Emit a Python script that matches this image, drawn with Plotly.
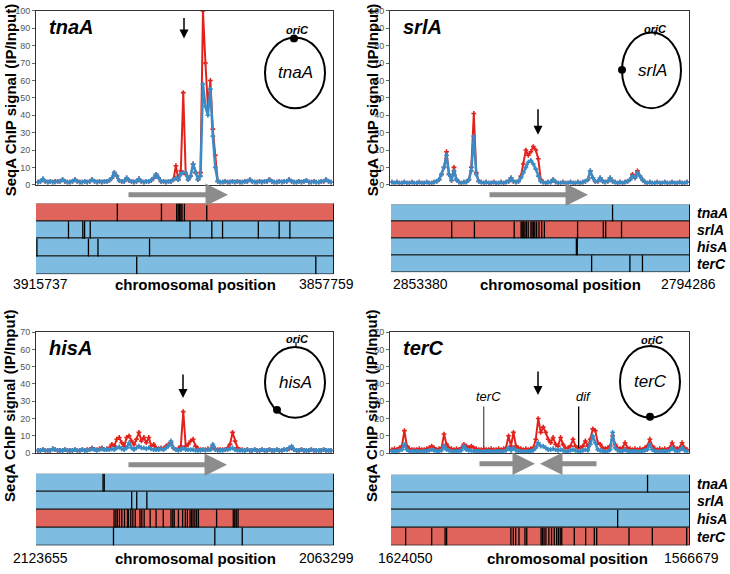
import plotly.graph_objects as go

W, H = 730, 574
def px(x): return x / W
def py(y): return 1 - y / H

FONT = "Arial, Liberation Sans, sans-serif"
RED_LINE = "#E2231D"
BLUE_LINE = "#3A8CC6"
RED_TRACK = "#E0645B"
BLUE_TRACK = "#7EBDE1"

genes = ["tnaA", "srlA", "hisA", "terC"]
start_labels = ["3915737", "2853380", "2123655", "1624050"]
end_labels = ["3857759", "2794286", "2063299", "1566679"]
y_max = [100, 100, 70, 70]
y_tick_step = [10, 10, 10, 10]

# ---- ChIP signal (IP/Input), 120 bins across each region ----
tnaA_red = [1.5, 2, 3, 2, 1.5, 2, 1.5, 2, 2, 2,
            3, 2, 1.5, 1.5, 2, 3, 2, 1.5, 1.5, 2,
            1.5, 2, 3, 2, 1.5, 2, 1.5, 2, 2, 2.5,
            4, 7, 5, 2.5, 2, 2, 4, 2.5, 2, 1.5,
            2, 3.5, 2, 1.5, 2, 2, 2.5, 4, 6, 4,
            2, 2, 1.5, 2, 2, 3, 11, 3, 8, 53,
            6, 3, 5, 12, 7, 3, 7, 100, 70, 45,
            60, 32, 17, 2, 1.5, 1.5, 2, 1.5, 1.5, 2,
            1.5, 2, 1.5, 1.5, 2, 2, 3, 2, 1.5, 1.5,
            2, 1.5, 2, 2, 3, 2, 1.5, 1.5, 2, 1.5,
            2, 2, 3, 2, 1.5, 1.5, 2, 1.5, 2, 2.5,
            1.5, 1.5, 2, 1.5, 1.5, 2, 2, 3, 2, 1.5]
tnaA_blue = [1.5, 2, 3.5, 2, 1.5, 2, 1.5, 1.5, 2, 2,
             3, 2, 1.5, 1.5, 2, 3, 2, 1.5, 1.5, 2,
             1.5, 2, 3, 2, 1.5, 2, 1.5, 2, 2, 2.5,
             4, 7, 5, 2.5, 2, 2, 4, 2.5, 2, 1.5,
             2, 3.5, 2, 1.5, 2, 2, 2.5, 4, 6, 4,
             2, 2, 1.5, 2, 2, 3, 4, 3, 6, 7,
             7, 3, 5, 12, 7, 3, 5, 58, 45, 40,
             55, 28, 10, 2, 1.5, 1.5, 2, 1.5, 1.5, 2,
             1.5, 2, 1.5, 1.5, 2, 2, 3, 2, 1.5, 1.5,
             2, 1.5, 2, 2, 3, 2, 1.5, 1.5, 2, 1.5,
             2, 2, 3, 2, 1.5, 1.5, 2, 1.5, 2, 2.5,
             1.5, 1.5, 2, 1.5, 1.5, 2, 2, 3, 2, 1.5]

srlA_red = [1.5, 1, 1.5, 1, 1, 1.5, 1, 1, 1.5, 1,
            1, 1.5, 1, 1, 1.5, 1, 1, 1.5, 2, 3,
            6, 10, 19, 6, 2.5, 10, 3, 1.5, 1, 1.5,
            1.5, 3, 10, 41, 7, 2, 1.5, 1, 1.5, 1,
            1, 1.5, 1, 1, 1.5, 1, 1.5, 2, 4, 2,
            1.5, 2, 5, 12, 20, 17, 19, 22, 20, 15,
            3, 1.5, 1, 1.5, 1.5, 3, 1.5, 1, 1, 1.5,
            1, 1, 1.5, 1, 1, 1.5, 1, 1.5, 2, 3,
            8, 4, 2, 2, 4, 2, 1.5, 2, 4, 2,
            1.5, 1, 1.5, 1, 1.5, 2, 3, 6, 4, 8,
            5, 3, 1.5, 1, 1.5, 1, 1, 1.5, 1, 1,
            1.5, 1, 1, 1.5, 1, 1, 1.5, 1, 1, 1.5]
srlA_blue = [1.5, 1, 1.5, 1, 1, 1.5, 1, 1, 1.5, 1,
             1, 1.5, 1, 1, 1.5, 1, 1, 1.5, 2, 3,
             6, 10, 17, 6, 2.5, 8, 3, 1.5, 1, 1.5,
             1.5, 3, 8, 28, 6, 2, 1.5, 1, 1.5, 1,
             1, 1.5, 1, 1, 1.5, 1, 1.5, 2, 4, 2,
             1.5, 2, 4, 7, 10, 13, 14, 12, 9, 5,
             2, 1.5, 1, 1.5, 1.5, 3, 1.5, 1, 1, 1.5,
             1, 1, 1.5, 1, 1, 1.5, 1, 1.5, 2, 3,
             8, 4, 2, 2, 4, 2, 1.5, 2, 4, 2,
             1.5, 1, 1.5, 1, 1.5, 2, 3, 5, 4, 7,
             5, 3, 1.5, 1, 1.5, 1, 1, 1.5, 1, 1,
             1.5, 1, 1, 1.5, 1, 1, 1.5, 1, 1, 1.5]

hisA_red = [1.5, 1.5, 2, 1.5, 1.5, 1.5, 2.5, 2, 1.5, 1.5,
            1.5, 2, 1.5, 1.5, 1.5, 2, 1.5, 1.5, 2, 1.5,
            2, 2, 3, 2, 2, 2.5, 3, 2, 2.5, 3,
            5, 4, 8, 9, 6, 4, 9, 10, 7, 5,
            8, 12, 7, 9, 6, 9, 4, 5, 3, 2.5,
            3, 2.5, 4, 5, 6, 3, 2, 2.5, 4, 24,
            4, 5, 7, 8, 4, 2.5, 2, 2, 2, 2.5,
            2, 4, 2.5, 2, 2, 2, 2, 3, 5, 12,
            7, 3, 2, 2, 1.5, 2, 1.5, 1.5, 2, 1.5,
            1.5, 2, 1.5, 1.5, 2, 1.5, 1.5, 2, 1.5, 1.5,
            2, 2, 2.5, 3, 2, 1.5, 1.5, 2, 1.5, 1.5,
            1.5, 2, 1.5, 1.5, 1.5, 1.5, 2, 1.5, 1.5, 1.5]
hisA_blue = [1.5, 1.5, 2, 1.5, 1.5, 1.5, 2.5, 2, 1.5, 1.5,
             1.5, 2, 1.5, 1.5, 1.5, 2, 1.5, 1.5, 2, 1.5,
             1.5, 2, 2.5, 2, 1.5, 2, 2.5, 2, 2, 2,
             2.5, 2, 3, 3.5, 2.5, 2, 3, 6, 3, 2,
             3, 4, 3, 3, 2.5, 3, 2.5, 2, 2, 2,
             2.5, 2, 3, 4, 7, 3, 2, 1.5, 2, 3,
             2, 2, 2, 2, 1.5, 1.5, 1.5, 2, 1.5, 2,
             2, 5, 2, 1.5, 1.5, 1.5, 2, 2, 2.5, 3,
             2, 1.5, 1.5, 1.5, 1.5, 2, 1.5, 1.5, 2, 1.5,
             1.5, 2, 1.5, 1.5, 2, 1.5, 1.5, 2, 1.5, 1.5,
             2, 2, 3, 4, 2, 1.5, 1.5, 2, 1.5, 1.5,
             1.5, 2, 1.5, 1.5, 1.5, 1.5, 2, 1.5, 1.5, 1.5]

terC_red = [2, 2.5, 2, 3, 4, 13, 4, 2.5, 2, 2,
            2, 2.5, 2, 2, 2.5, 3, 4, 3, 2, 2.5,
            3, 11, 5, 3, 2.5, 2, 2.5, 2, 3, 5,
            4, 3, 4, 3, 2.5, 2, 2, 2.5, 2, 2,
            2.5, 2, 2, 2.5, 2, 2.5, 3, 10, 4, 12,
            4, 3, 2.5, 2, 2.5, 2, 2.5, 3, 8, 20,
            12, 15, 12, 8, 6, 9, 5, 4, 9, 5,
            3, 3, 4, 8, 4, 3, 3, 4, 7, 4,
            8, 14, 13, 6, 5, 3, 2.5, 3, 4, 10,
            5, 3, 2.5, 3, 6, 3, 2.5, 2, 2.5, 2,
            2.5, 2, 3, 4, 8, 4, 2.5, 2, 2.5, 2,
            2.5, 2, 3, 6, 3, 2.5, 3, 6, 3, 2]
terC_blue = [1, 1, 1, 1.5, 2, 5, 2, 1, 1, 1,
             1, 1, 1, 1, 1, 1.5, 2, 1.5, 1, 1,
             1.5, 4, 2, 1.5, 1, 1, 1, 1, 1.5, 4,
             2, 1.5, 1.5, 1, 1, 1, 1, 1, 1, 1,
             1, 1, 1, 1, 1, 1, 1.5, 3, 1.5, 3,
             1.5, 1, 1, 1, 1, 1, 1, 1.5, 3, 6,
             4, 4, 3, 2, 2, 2.5, 2, 1.5, 2, 1.5,
             1, 1, 1.5, 2, 1.5, 1, 1, 1.5, 2, 1.5,
             5, 10, 6, 2, 1.5, 1, 1, 1, 2, 12,
             3, 1.5, 1, 1, 2, 1, 1, 1, 1, 1,
             1, 1, 1.5, 2, 5, 2, 1, 1, 1, 1,
             1, 1, 1.5, 3, 1.5, 1, 1.5, 3, 1.5, 1]

red_series = [tnaA_red, srlA_red, hisA_red, terC_red]
blue_series = [tnaA_blue, srlA_blue, hisA_blue, terC_blue]

# ---- boundary positions (fraction of region) in each track row: tnaA, srlA, hisA, terC ----
tracks_tnaA_region = [
    [0.273, 0.421, 0.472, 0.477, 0.481, 0.486, 0.490, 0.498, 0.573],
    [0.109, 0.157, 0.163, 0.182, 0.517, 0.590, 0.626, 0.746, 0.816, 0.852],
    [0.003, 0.176, 0.208, 0.381],
    [0.338, 0.939],
]
tracks_srlA_region = [
    [0.741],
    [0.203, 0.279, 0.412, 0.435, 0.439, 0.444, 0.448, 0.453, 0.459, 0.468,
     0.472, 0.477, 0.481, 0.487, 0.495, 0.504, 0.513, 0.624, 0.710, 0.718, 0.771],
    [0.620, 0.623],
    [0.671, 0.799, 0.841],
]
tracks_hisA_region = [
    [0.225, 0.229],
    [0.321, 0.338, 0.372],
    [0.262, 0.268, 0.273, 0.280, 0.288, 0.297, 0.307, 0.310, 0.318, 0.325,
     0.333, 0.349, 0.355, 0.363, 0.383, 0.403, 0.427, 0.453, 0.459, 0.464,
     0.478, 0.492, 0.501, 0.508, 0.517, 0.522, 0.527, 0.533, 0.539, 0.545,
     0.606, 0.662, 0.667, 0.672, 0.678],
    [0.260, 0.600, 0.692],
]
tracks_terC_region = [
    [0.858],
    [],
    [0.758],
    [0.049, 0.136, 0.181, 0.186, 0.401, 0.409, 0.417, 0.428, 0.448, 0.454,
     0.502, 0.507, 0.512, 0.518, 0.528, 0.537, 0.546, 0.554, 0.560, 0.566,
     0.571, 0.613, 0.651, 0.680, 0.688, 0.796, 0.874, 0.989],
]
track_lines = [tracks_tnaA_region, tracks_srlA_region, tracks_hisA_region, tracks_terC_region]

# ---- layout geometry (pixels) ----
sig_boxes = [(36, 333, 6, 183), (390, 689, 6, 183), (36, 333, 333, 456), (390, 689, 333, 456)]
trk_boxes = [(36, 334, 202, 274), (391, 690, 203, 272), (36, 334, 477, 550), (391, 690, 478, 550)]

fig = go.Figure()
layout = dict(width=W, height=H, margin=dict(l=0, r=0, t=0, b=0),
              paper_bgcolor="white", plot_bgcolor="white", showlegend=False,
              font=dict(family=FONT, color="black"))
annotations = []
shapes = []

def note(x, y, text, size, **kw):
    d = dict(x=px(x), y=py(y), xref="paper", yref="paper", showarrow=False, text=text,
             xanchor="center", yanchor="middle", font=dict(size=size, family=FONT, color="black"))
    d.update(kw)
    annotations.append(d)

n_bins = len(tnaA_red)
bins = list(range(n_bins))

for k in range(4):
    sx = "x" if k == 0 else f"x{k+1}"
    sy = "y" if k == 0 else f"y{k+1}"
    tx, ty = f"x{k+5}", f"y{k+5}"
    fig.add_trace(go.Scatter(x=bins, y=red_series[k], xaxis=sx, yaxis=sy, mode="lines+markers",
                             line=dict(color=RED_LINE, width=2),
                             marker=dict(size=4, color=RED_LINE, symbol="cross")))
    fig.add_trace(go.Scatter(x=bins, y=blue_series[k], xaxis=sx, yaxis=sy, mode="lines+markers",
                             line=dict(color=BLUE_LINE, width=2.5),
                             marker=dict(size=4, color=BLUE_LINE, symbol="cross")))
    # tracks
    rows_y = [3.5, 2.5, 1.5, 0.5]
    colors = [RED_TRACK if r == k else BLUE_TRACK for r in range(4)]
    fig.add_trace(go.Bar(x=[1, 1, 1, 1], y=rows_y, base=[0, 0, 0, 0], width=1, orientation="h",
                         xaxis=tx, yaxis=ty, marker=dict(color=colors, line=dict(color="#1a1a1a", width=1))))
    lx, ly = [], []
    for r in range(4):
        for p in track_lines[k][r]:
            lx += [p, p, None]
            ly += [rows_y[r] - 0.5, rows_y[r] + 0.5, None]
    fig.add_trace(go.Scatter(x=lx, y=ly, xaxis=tx, yaxis=ty, mode="lines",
                             line=dict(color="black", width=1.3), hoverinfo="skip"))

    x0, x1, y0, y1 = sig_boxes[k]
    key_x = "xaxis" if k == 0 else f"xaxis{k+1}"
    key_y = "yaxis" if k == 0 else f"yaxis{k+1}"
    layout[key_x] = dict(domain=[px(x0), px(x1)], range=[-0.8, n_bins - 0.2], anchor=sy,
                         showticklabels=False, ticks="", showgrid=False, zeroline=False,
                         showline=True, mirror=True, linecolor="#333", linewidth=1)
    layout[key_y] = dict(domain=[py(y1), py(y0)], range=[0, y_max[k]], anchor=sx,
                         dtick=y_tick_step[k], tick0=0, ticks="outside", ticklen=3, tickcolor="#666",
                         tickfont=dict(size=9, color="#555"), showgrid=False, zeroline=False,
                         showline=True, mirror=True, linecolor="#333", linewidth=1)
    a0, a1, b0, b1 = trk_boxes[k]
    layout[f"xaxis{k+5}"] = dict(domain=[px(a0), px(a1)], range=[0, 1], anchor=ty, visible=False)
    layout[f"yaxis{k+5}"] = dict(domain=[py(b1), py(b0)], range=[0, 4], anchor=tx, visible=False)

    # panel title
    note(x0 + 11, y0 + 16, f"<b><i>{genes[k]}</i></b>", 20, xanchor="left")
    # y-axis title
    yt_x = 10 if k in (0, 2) else 372
    yt_y = 97 if k < 2 else 408
    note(yt_x, yt_y, "<b>SeqA ChIP signal (IP/Input)</b>", 15, textangle=-90)
    # position labels
    lab_y = 284 if k < 2 else 563
    starts_x = [40, 420, 40, 405][k]
    ends_x = [326, 688, 326, 691][k]
    mid_x = [195, 560, 195, 567][k]
    note(starts_x, lab_y, start_labels[k], 14)
    note(ends_x, lab_y, end_labels[k], 14)
    note(mid_x, lab_y, "<b>chromosomal position</b>", 15)

# row labels on right side
for k in (1, 3):
    a0, a1, b0, b1 = trk_boxes[k]
    rh = (b1 - b0) / 4
    for r in range(4):
        note(a1 + 5, b0 + rh * (r + 0.5), f"<b><i>{genes[r]}</i></b>", 14, xanchor="left")

# chromosome circle insets
circles = [
    dict(box=(265, 325, 33, 105), dot=(294, 34), label=(297, 25), tick=None, center=(295, 69)),
    dict(box=(622, 681, 28, 105), dot=(622, 66), label=(655, 24), tick=(655, 26, 31), center=(652, 67)),
    dict(box=(265, 325, 348, 420), dot=(277, 412), label=(297, 340), tick=(296, 343, 349), center=(295, 384)),
    dict(box=(620, 680, 347, 420), dot=(650, 419), label=(652, 341), tick=(651, 344, 348), center=(650, 383)),
]
for k, c in enumerate(circles):
    x0, x1, y0, y1 = c["box"]
    shapes.append(dict(type="circle", xref="paper", yref="paper", x0=px(x0), x1=px(x1), y0=py(y1), y1=py(y0),
                       line=dict(color="black", width=2)))
    dx, dy = c["dot"]
    shapes.append(dict(type="circle", xref="paper", yref="paper", x0=px(dx - 4), x1=px(dx + 4),
                       y0=py(dy + 4), y1=py(dy - 4), fillcolor="black", line=dict(color="black", width=0)))
    if c["tick"]:
        tx_, t0, t1 = c["tick"]
        shapes.append(dict(type="line", xref="paper", yref="paper", x0=px(tx_), x1=px(tx_), y0=py(t0), y1=py(t1),
                           line=dict(color="black", width=1.2)))
    lx_, ly_ = c["label"]
    note(lx_, ly_, "<b><i>oriC</i></b>", 11)
    cx, cy = c["center"]
    note(cx, cy, f"<i>{genes[k]}</i>", 17)

# black downward arrows marking gene position
down_arrows = [(184, 12, 34), (538, 105, 132), (183, 375, 400), (538, 372, 397)]
for (ax_, ya, yb) in down_arrows:
    annotations.append(dict(x=px(ax_), y=py(yb), xref="paper", yref="paper", ax=0, ay=-(yb - ya),
                            text="", showarrow=True, arrowhead=2, arrowsize=1.2, arrowwidth=1.5,
                            arrowcolor="black"))

# gray replication-direction arrows
gray_arrows = [(127, 228, 193), (488, 588, 193), (127, 227, 468), (478, 535, 467), (598, 540, 467)]
for (xt, xh, yy) in gray_arrows:
    annotations.append(dict(x=px(xh), y=py(yy), xref="paper", yref="paper", ax=xt - xh, ay=0,
                            text="", showarrow=True, arrowhead=2, arrowsize=0.9, arrowwidth=5,
                            arrowcolor="#8C8C8C"))

# terC and dif site markers (terC panel)
site_names = ["terC", "dif"]
site_bins = [37, 75.3]
site_colors = ["#555", "black"]
for name, b, col in zip(site_names, site_bins, site_colors):
    shapes.append(dict(type="line", xref="x4", yref="y4", x0=b, x1=b, y0=3, y1=27,
                       line=dict(color=col, width=1.3)))
    annotations.append(dict(x=b + 2, y=33, xref="x4", yref="y4", showarrow=False,
                            xanchor="center", yanchor="middle",
                            text=f"<i>{name}</i>", font=dict(size=13, family=FONT, color="black")))

layout["annotations"] = annotations
layout["shapes"] = shapes
layout["bargap"] = 0
fig.update_layout(**layout)
fig.write_html("out.html", config={"displayModeBar": False},
               post_script="document.body.style.margin='0';document.body.style.padding='0';")
